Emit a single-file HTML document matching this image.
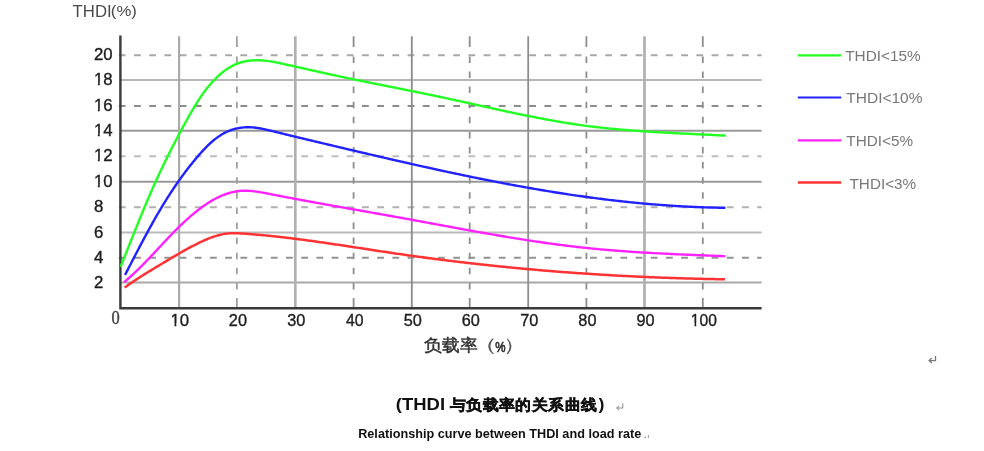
<!DOCTYPE html>
<html><head><meta charset="utf-8"><style>
html,body{margin:0;padding:0;background:#fff;width:984px;height:451px;overflow:hidden;font-family:"Liberation Sans",sans-serif;}
svg{position:absolute;left:0;top:0;will-change:transform;}
</style></head><body>
<svg width="984" height="451" viewBox="0 0 984 451">
<rect width="984" height="451" fill="#fff"/>
<g>
<line x1="120.4" y1="282.60" x2="761.6" y2="282.60" stroke="#a8a8a8" stroke-width="2"/>
<line x1="120.4" y1="232.40" x2="761.6" y2="232.40" stroke="#bababa" stroke-width="2"/>
<line x1="120.4" y1="181.80" x2="761.6" y2="181.80" stroke="#999" stroke-width="2"/>
<line x1="120.4" y1="130.80" x2="761.6" y2="130.80" stroke="#999" stroke-width="2"/>
<line x1="120.4" y1="80.00" x2="761.6" y2="80.00" stroke="#b6b6b6" stroke-width="2"/>
<path d="M118.80,257.70H125.60M134.00,257.70H140.80M149.20,257.70H156.00M164.40,257.70H171.20M179.60,257.70H186.40M194.80,257.70H201.60M210.00,257.70H216.80M225.20,257.70H232.00M240.40,257.70H247.20M255.60,257.70H262.40M270.80,257.70H277.60M286.00,257.70H292.80M301.20,257.70H308.00M316.40,257.70H323.20M331.60,257.70H338.40M346.80,257.70H353.60M362.00,257.70H368.80M377.20,257.70H384.00M392.40,257.70H399.20M407.60,257.70H414.40M422.80,257.70H429.60M438.00,257.70H444.80M453.20,257.70H460.00M468.40,257.70H475.20M483.60,257.70H490.40M498.80,257.70H505.60M514.00,257.70H520.80M529.20,257.70H536.00M544.40,257.70H551.20M559.60,257.70H566.40M574.80,257.70H581.60M590.00,257.70H596.80M605.20,257.70H612.00M620.40,257.70H627.20M635.60,257.70H642.40M650.80,257.70H657.60M666.00,257.70H672.80M681.20,257.70H688.00M696.40,257.70H703.20M711.60,257.70H718.40M726.80,257.70H733.60M742.00,257.70H748.80M757.20,257.70H761.60" stroke="#939393" stroke-width="2" fill="none"/>
<path d="M118.80,207.30H125.60M134.00,207.30H140.80M149.20,207.30H156.00M164.40,207.30H171.20M179.60,207.30H186.40M194.80,207.30H201.60M210.00,207.30H216.80M225.20,207.30H232.00M240.40,207.30H247.20M255.60,207.30H262.40M270.80,207.30H277.60M286.00,207.30H292.80M301.20,207.30H308.00M316.40,207.30H323.20M331.60,207.30H338.40M346.80,207.30H353.60M362.00,207.30H368.80M377.20,207.30H384.00M392.40,207.30H399.20M407.60,207.30H414.40M422.80,207.30H429.60M438.00,207.30H444.80M453.20,207.30H460.00M468.40,207.30H475.20M483.60,207.30H490.40M498.80,207.30H505.60M514.00,207.30H520.80M529.20,207.30H536.00M544.40,207.30H551.20M559.60,207.30H566.40M574.80,207.30H581.60M590.00,207.30H596.80M605.20,207.30H612.00M620.40,207.30H627.20M635.60,207.30H642.40M650.80,207.30H657.60M666.00,207.30H672.80M681.20,207.30H688.00M696.40,207.30H703.20M711.60,207.30H718.40M726.80,207.30H733.60M742.00,207.30H748.80M757.20,207.30H761.60" stroke="#b0b0b0" stroke-width="2" fill="none"/>
<path d="M118.80,156.20H125.60M134.00,156.20H140.80M149.20,156.20H156.00M164.40,156.20H171.20M179.60,156.20H186.40M194.80,156.20H201.60M210.00,156.20H216.80M225.20,156.20H232.00M240.40,156.20H247.20M255.60,156.20H262.40M270.80,156.20H277.60M286.00,156.20H292.80M301.20,156.20H308.00M316.40,156.20H323.20M331.60,156.20H338.40M346.80,156.20H353.60M362.00,156.20H368.80M377.20,156.20H384.00M392.40,156.20H399.20M407.60,156.20H414.40M422.80,156.20H429.60M438.00,156.20H444.80M453.20,156.20H460.00M468.40,156.20H475.20M483.60,156.20H490.40M498.80,156.20H505.60M514.00,156.20H520.80M529.20,156.20H536.00M544.40,156.20H551.20M559.60,156.20H566.40M574.80,156.20H581.60M590.00,156.20H596.80M605.20,156.20H612.00M620.40,156.20H627.20M635.60,156.20H642.40M650.80,156.20H657.60M666.00,156.20H672.80M681.20,156.20H688.00M696.40,156.20H703.20M711.60,156.20H718.40M726.80,156.20H733.60M742.00,156.20H748.80M757.20,156.20H761.60" stroke="#bdbdbd" stroke-width="2" fill="none"/>
<path d="M118.80,105.90H125.60M134.00,105.90H140.80M149.20,105.90H156.00M164.40,105.90H171.20M179.60,105.90H186.40M194.80,105.90H201.60M210.00,105.90H216.80M225.20,105.90H232.00M240.40,105.90H247.20M255.60,105.90H262.40M270.80,105.90H277.60M286.00,105.90H292.80M301.20,105.90H308.00M316.40,105.90H323.20M331.60,105.90H338.40M346.80,105.90H353.60M362.00,105.90H368.80M377.20,105.90H384.00M392.40,105.90H399.20M407.60,105.90H414.40M422.80,105.90H429.60M438.00,105.90H444.80M453.20,105.90H460.00M468.40,105.90H475.20M483.60,105.90H490.40M498.80,105.90H505.60M514.00,105.90H520.80M529.20,105.90H536.00M544.40,105.90H551.20M559.60,105.90H566.40M574.80,105.90H581.60M590.00,105.90H596.80M605.20,105.90H612.00M620.40,105.90H627.20M635.60,105.90H642.40M650.80,105.90H657.60M666.00,105.90H672.80M681.20,105.90H688.00M696.40,105.90H703.20M711.60,105.90H718.40M726.80,105.90H733.60M742.00,105.90H748.80M757.20,105.90H761.60" stroke="#8c8c8c" stroke-width="2" fill="none"/>
<path d="M118.80,55.20H125.60M134.00,55.20H140.80M149.20,55.20H156.00M164.40,55.20H171.20M179.60,55.20H186.40M194.80,55.20H201.60M210.00,55.20H216.80M225.20,55.20H232.00M240.40,55.20H247.20M255.60,55.20H262.40M270.80,55.20H277.60M286.00,55.20H292.80M301.20,55.20H308.00M316.40,55.20H323.20M331.60,55.20H338.40M346.80,55.20H353.60M362.00,55.20H368.80M377.20,55.20H384.00M392.40,55.20H399.20M407.60,55.20H414.40M422.80,55.20H429.60M438.00,55.20H444.80M453.20,55.20H460.00M468.40,55.20H475.20M483.60,55.20H490.40M498.80,55.20H505.60M514.00,55.20H520.80M529.20,55.20H536.00M544.40,55.20H551.20M559.60,55.20H566.40M574.80,55.20H581.60M590.00,55.20H596.80M605.20,55.20H612.00M620.40,55.20H627.20M635.60,55.20H642.40M650.80,55.20H657.60M666.00,55.20H672.80M681.20,55.20H688.00M696.40,55.20H703.20M711.60,55.20H718.40M726.80,55.20H733.60M742.00,55.20H748.80M757.20,55.20H761.60" stroke="#a8a8a8" stroke-width="2" fill="none"/>
<line x1="179.10" y1="36.2" x2="179.10" y2="308.3" stroke="#a8a8a8" stroke-width="2.1"/>
<line x1="295.30" y1="36.2" x2="295.30" y2="308.3" stroke="#b0b0b0" stroke-width="2.7"/>
<line x1="411.80" y1="36.2" x2="411.80" y2="308.3" stroke="#8e8e8e" stroke-width="1.9"/>
<line x1="528.20" y1="36.2" x2="528.20" y2="308.3" stroke="#8e8e8e" stroke-width="1.8"/>
<line x1="644.50" y1="36.2" x2="644.50" y2="308.3" stroke="#b0b0b0" stroke-width="2.7"/>
<path d="M236.90,298.00V308.30M236.90,282.90V289.40M236.90,267.80V274.30M236.90,252.70V259.20M236.90,237.60V244.10M236.90,222.50V229.00M236.90,207.40V213.90M236.90,192.30V198.80M236.90,177.20V183.70M236.90,162.10V168.60M236.90,147.00V153.50M236.90,131.90V138.40M236.90,116.80V123.30M236.90,101.70V108.20M236.90,86.60V93.10M236.90,71.50V78.00M236.90,56.40V62.90M236.90,36.20V47.00" stroke="#a0a0a0" stroke-width="1.8" fill="none"/>
<path d="M353.60,298.00V308.30M353.60,282.90V289.40M353.60,267.80V274.30M353.60,252.70V259.20M353.60,237.60V244.10M353.60,222.50V229.00M353.60,207.40V213.90M353.60,192.30V198.80M353.60,177.20V183.70M353.60,162.10V168.60M353.60,147.00V153.50M353.60,131.90V138.40M353.60,116.80V123.30M353.60,101.70V108.20M353.60,86.60V93.10M353.60,71.50V78.00M353.60,56.40V62.90M353.60,36.20V47.00" stroke="#8e8e8e" stroke-width="1.8" fill="none"/>
<path d="M469.70,298.00V308.30M469.70,282.90V289.40M469.70,267.80V274.30M469.70,252.70V259.20M469.70,237.60V244.10M469.70,222.50V229.00M469.70,207.40V213.90M469.70,192.30V198.80M469.70,177.20V183.70M469.70,162.10V168.60M469.70,147.00V153.50M469.70,131.90V138.40M469.70,116.80V123.30M469.70,101.70V108.20M469.70,86.60V93.10M469.70,71.50V78.00M469.70,56.40V62.90M469.70,36.20V47.00" stroke="#8e8e8e" stroke-width="1.8" fill="none"/>
<path d="M586.40,298.00V308.30M586.40,282.90V289.40M586.40,267.80V274.30M586.40,252.70V259.20M586.40,237.60V244.10M586.40,222.50V229.00M586.40,207.40V213.90M586.40,192.30V198.80M586.40,177.20V183.70M586.40,162.10V168.60M586.40,147.00V153.50M586.40,131.90V138.40M586.40,116.80V123.30M586.40,101.70V108.20M586.40,86.60V93.10M586.40,71.50V78.00M586.40,56.40V62.90M586.40,36.20V47.00" stroke="#8e8e8e" stroke-width="1.8" fill="none"/>
<path d="M702.80,298.00V308.30M702.80,282.90V289.40M702.80,267.80V274.30M702.80,252.70V259.20M702.80,237.60V244.10M702.80,222.50V229.00M702.80,207.40V213.90M702.80,192.30V198.80M702.80,177.20V183.70M702.80,162.10V168.60M702.80,147.00V153.50M702.80,131.90V138.40M702.80,116.80V123.30M702.80,101.70V108.20M702.80,86.60V93.10M702.80,71.50V78.00M702.80,56.40V62.90M702.80,36.20V47.00" stroke="#8e8e8e" stroke-width="1.8" fill="none"/>
<path d="M120.4,35.5V308.3H761.6" stroke="#3a3a3a" stroke-width="2.4" fill="none"/>
<path d="M120.59,266.78 L121.27,265.09 L121.95,263.40 L122.63,261.71 L123.30,260.01 L123.98,258.32 L124.66,256.62 L125.33,254.92 L126.01,253.22 L126.69,251.51 L127.36,249.81 L128.04,248.10 L128.72,246.40 L129.40,244.69 L130.08,242.98 L130.76,241.27 L131.44,239.56 L132.12,237.85 L132.80,236.14 L133.48,234.43 L134.17,232.71 L134.85,231.00 L135.54,229.29 L136.23,227.58 L136.92,225.87 L137.61,224.15 L138.30,222.44 L138.99,220.73 L139.69,219.02 L140.38,217.31 L141.08,215.60 L141.78,213.90 L142.49,212.19 L143.19,210.48 L143.90,208.78 L144.61,207.07 L145.32,205.37 L146.04,203.67 L146.75,201.97 L147.47,200.28 L148.19,198.58 L148.92,196.89 L149.65,195.20 L150.38,193.51 L151.11,191.83 L151.85,190.14 L152.59,188.46 L153.33,186.78 L154.08,185.11 L154.83,183.43 L155.58,181.76 L156.34,180.10 L157.10,178.43 L157.87,176.77 L158.63,175.11 L159.41,173.46 L160.18,171.81 L160.96,170.16 L161.74,168.51 L162.53,166.86 L163.32,165.22 L164.11,163.58 L164.91,161.94 L165.71,160.30 L166.52,158.66 L167.33,157.03 L168.14,155.40 L168.96,153.76 L169.78,152.13 L170.60,150.51 L171.43,148.88 L172.26,147.25 L173.10,145.63 L173.94,144.00 L174.78,142.38 L175.63,140.75 L176.48,139.13 L177.34,137.51 L178.20,135.88 L179.06,134.26 L179.93,132.64 L180.80,131.02 L181.68,129.39 L182.56,127.77 L183.44,126.15 L184.33,124.53 L185.22,122.90 L186.12,121.28 L187.02,119.65 L187.92,118.03 L188.83,116.40 L189.75,114.78 L190.67,113.15 L191.60,111.53 L192.54,109.92 L193.49,108.30 L194.45,106.70 L195.42,105.10 L196.40,103.51 L197.39,101.92 L198.40,100.35 L199.42,98.79 L200.45,97.23 L201.50,95.69 L202.57,94.17 L203.66,92.65 L204.76,91.15 L205.88,89.67 L207.03,88.21 L208.19,86.76 L209.38,85.33 L210.59,83.92 L211.82,82.53 L213.08,81.16 L214.36,79.82 L215.67,78.49 L217.00,77.20 L218.36,75.93 L219.74,74.69 L221.15,73.49 L222.59,72.32 L224.04,71.20 L225.53,70.11 L227.03,69.07 L228.56,68.08 L230.12,67.14 L231.70,66.26 L233.30,65.43 L234.92,64.66 L236.56,63.95 L238.23,63.31 L239.91,62.73 L241.62,62.22 L243.35,61.77 L245.09,61.38 L246.84,61.05 L248.61,60.77 L250.40,60.55 L252.19,60.39 L254.00,60.28 L255.81,60.22 L257.63,60.21 L259.45,60.25 L261.28,60.33 L263.11,60.46 L264.95,60.64 L266.78,60.85 L268.62,61.10 L270.45,61.38 L272.29,61.69 L274.13,62.02 L275.96,62.38 L277.79,62.75 L279.62,63.13 L281.45,63.53 L283.28,63.92 L285.10,64.32 L286.92,64.73 L288.74,65.13 L290.55,65.53 L292.37,65.93 L294.18,66.34 L295.98,66.74 L297.79,67.15 L299.59,67.55 L301.39,67.96 L303.19,68.36 L304.99,68.77 L306.79,69.17 L308.59,69.58 L310.38,69.98 L312.17,70.39 L313.97,70.79 L315.76,71.19 L317.55,71.59 L319.34,71.99 L321.13,72.39 L322.93,72.79 L324.72,73.19 L326.51,73.58 L328.30,73.97 L330.09,74.36 L331.89,74.75 L333.68,75.14 L335.47,75.53 L337.27,75.91 L339.06,76.30 L340.86,76.68 L342.66,77.06 L344.45,77.43 L346.25,77.81 L348.05,78.19 L349.85,78.56 L351.64,78.93 L353.44,79.31 L355.24,79.68 L357.04,80.05 L358.84,80.42 L360.64,80.78 L362.45,81.15 L364.25,81.52 L366.05,81.88 L367.85,82.25 L369.65,82.61 L371.46,82.97 L373.26,83.34 L375.06,83.70 L376.87,84.06 L378.67,84.42 L380.47,84.78 L382.28,85.14 L384.08,85.50 L385.89,85.86 L387.69,86.23 L389.50,86.59 L391.30,86.95 L393.11,87.31 L394.91,87.67 L396.72,88.03 L398.52,88.39 L400.33,88.75 L402.13,89.11 L403.94,89.47 L405.75,89.84 L407.55,90.20 L409.36,90.56 L411.16,90.93 L412.97,91.29 L414.77,91.66 L416.58,92.03 L418.38,92.39 L420.19,92.76 L421.99,93.13 L423.80,93.50 L425.60,93.87 L427.41,94.25 L429.21,94.62 L431.01,94.99 L432.82,95.37 L434.62,95.75 L436.42,96.13 L438.23,96.51 L440.03,96.89 L441.83,97.28 L443.64,97.66 L445.44,98.05 L447.24,98.44 L449.04,98.83 L450.84,99.22 L452.64,99.61 L454.44,100.00 L456.24,100.39 L458.04,100.79 L459.84,101.19 L461.64,101.58 L463.44,101.98 L465.24,102.38 L467.04,102.77 L468.84,103.17 L470.64,103.57 L472.44,103.97 L474.24,104.37 L476.04,104.77 L477.84,105.16 L479.64,105.56 L481.44,105.96 L483.24,106.36 L485.04,106.76 L486.84,107.15 L488.64,107.55 L490.44,107.95 L492.24,108.34 L494.04,108.74 L495.84,109.13 L497.64,109.52 L499.44,109.91 L501.24,110.30 L503.04,110.69 L504.84,111.08 L506.64,111.47 L508.44,111.85 L510.24,112.24 L512.04,112.62 L513.85,113.00 L515.65,113.38 L517.45,113.75 L519.25,114.13 L521.06,114.50 L522.86,114.87 L524.66,115.24 L526.47,115.61 L528.27,115.97 L530.08,116.33 L531.88,116.69 L533.69,117.04 L535.49,117.40 L537.30,117.75 L539.11,118.10 L540.92,118.44 L542.72,118.78 L544.53,119.12 L546.34,119.45 L548.15,119.79 L549.96,120.11 L551.77,120.44 L553.58,120.76 L555.40,121.08 L557.21,121.39 L559.02,121.70 L560.83,122.01 L562.65,122.31 L564.46,122.61 L566.28,122.90 L568.10,123.20 L569.91,123.48 L571.73,123.76 L573.55,124.04 L575.37,124.31 L577.19,124.58 L579.01,124.84 L580.83,125.10 L582.65,125.35 L584.47,125.60 L586.30,125.85 L588.12,126.08 L589.95,126.32 L591.77,126.55 L593.60,126.77 L595.43,126.99 L597.26,127.20 L599.09,127.41 L600.92,127.62 L602.75,127.82 L604.58,128.01 L606.41,128.20 L608.24,128.39 L610.08,128.58 L611.91,128.76 L613.74,128.93 L615.58,129.10 L617.41,129.27 L619.25,129.43 L621.09,129.60 L622.92,129.75 L624.76,129.91 L626.60,130.06 L628.44,130.20 L630.27,130.35 L632.11,130.49 L633.95,130.63 L635.79,130.76 L637.63,130.90 L639.47,131.03 L641.31,131.15 L643.15,131.28 L644.99,131.40 L646.83,131.52 L648.67,131.64 L650.51,131.75 L652.35,131.87 L654.19,131.98 L656.04,132.09 L657.88,132.19 L659.72,132.30 L661.56,132.40 L663.40,132.51 L665.24,132.61 L667.08,132.71 L668.93,132.81 L670.77,132.90 L672.61,133.00 L674.45,133.09 L676.29,133.19 L678.13,133.28 L679.97,133.37 L681.81,133.46 L683.65,133.55 L685.49,133.65 L687.33,133.74 L689.17,133.82 L691.01,133.91 L692.85,134.00 L694.69,134.09 L696.52,134.18 L698.36,134.27 L700.20,134.36 L702.04,134.45 L703.87,134.54 L705.71,134.63 L707.54,134.72 L709.38,134.81 L711.21,134.90 L713.05,134.99 L714.88,135.09 L716.71,135.18 L718.55,135.28 L720.38,135.37 L722.21,135.47 L724.04,135.57 L725.87,135.67" stroke="#22ff22" stroke-width="2.4" fill="none" stroke-linecap="butt" stroke-linejoin="round"/>
<path d="M125.01,275.00 L125.80,273.46 L126.60,271.92 L127.40,270.38 L128.19,268.84 L128.98,267.30 L129.78,265.77 L130.57,264.23 L131.36,262.70 L132.16,261.17 L132.95,259.64 L133.74,258.11 L134.53,256.58 L135.33,255.05 L136.12,253.52 L136.92,252.00 L137.71,250.48 L138.51,248.95 L139.31,247.43 L140.10,245.91 L140.91,244.40 L141.71,242.88 L142.51,241.37 L143.32,239.86 L144.12,238.35 L144.93,236.84 L145.74,235.33 L146.56,233.82 L147.37,232.32 L148.19,230.82 L149.01,229.32 L149.83,227.83 L150.66,226.33 L151.49,224.84 L152.32,223.35 L153.16,221.86 L154.00,220.38 L154.84,218.89 L155.69,217.41 L156.54,215.93 L157.40,214.46 L158.26,212.99 L159.12,211.52 L159.99,210.05 L160.86,208.58 L161.74,207.12 L162.62,205.66 L163.51,204.20 L164.40,202.75 L165.29,201.30 L166.20,199.85 L167.11,198.41 L168.02,196.96 L168.94,195.53 L169.86,194.09 L170.79,192.66 L171.73,191.23 L172.67,189.80 L173.62,188.38 L174.58,186.96 L175.54,185.55 L176.51,184.13 L177.49,182.73 L178.47,181.32 L179.46,179.92 L180.46,178.52 L181.47,177.13 L182.48,175.74 L183.50,174.35 L184.53,172.97 L185.57,171.59 L186.61,170.21 L187.67,168.84 L188.73,167.48 L189.80,166.11 L190.88,164.75 L191.96,163.40 L193.06,162.05 L194.17,160.70 L195.28,159.36 L196.40,158.02 L197.54,156.69 L198.68,155.36 L199.83,154.04 L201.00,152.72 L202.17,151.42 L203.36,150.13 L204.56,148.85 L205.77,147.59 L207.00,146.35 L208.24,145.13 L209.50,143.93 L210.78,142.76 L212.07,141.61 L213.38,140.50 L214.71,139.42 L216.05,138.37 L217.42,137.36 L218.81,136.38 L220.21,135.45 L221.64,134.56 L223.10,133.72 L224.57,132.92 L226.07,132.17 L227.60,131.47 L229.14,130.83 L230.71,130.24 L232.30,129.70 L233.91,129.21 L235.53,128.78 L237.17,128.39 L238.82,128.07 L240.49,127.79 L242.16,127.57 L243.84,127.40 L245.53,127.29 L247.22,127.23 L248.91,127.23 L250.61,127.28 L252.30,127.38 L254.00,127.53 L255.69,127.72 L257.39,127.95 L259.09,128.22 L260.78,128.52 L262.48,128.85 L264.18,129.20 L265.87,129.58 L267.57,129.97 L269.26,130.37 L270.95,130.78 L272.64,131.20 L274.33,131.62 L276.02,132.03 L277.70,132.45 L279.39,132.86 L281.07,133.28 L282.75,133.69 L284.43,134.10 L286.11,134.51 L287.79,134.91 L289.47,135.32 L291.14,135.73 L292.82,136.13 L294.49,136.54 L296.16,136.94 L297.83,137.34 L299.50,137.74 L301.17,138.14 L302.84,138.54 L304.51,138.94 L306.18,139.34 L307.84,139.74 L309.51,140.14 L311.18,140.53 L312.84,140.93 L314.51,141.33 L316.17,141.72 L317.83,142.12 L319.50,142.51 L321.16,142.91 L322.83,143.30 L324.49,143.69 L326.16,144.09 L327.82,144.48 L329.48,144.88 L331.15,145.27 L332.81,145.66 L334.48,146.06 L336.14,146.45 L337.81,146.85 L339.48,147.24 L341.14,147.63 L342.81,148.03 L344.47,148.42 L346.14,148.81 L347.81,149.21 L349.47,149.60 L351.14,149.99 L352.81,150.39 L354.48,150.78 L356.14,151.17 L357.81,151.56 L359.48,151.96 L361.15,152.35 L362.82,152.74 L364.49,153.13 L366.16,153.52 L367.82,153.91 L369.49,154.30 L371.16,154.69 L372.83,155.08 L374.50,155.47 L376.18,155.86 L377.85,156.25 L379.52,156.64 L381.19,157.03 L382.86,157.41 L384.53,157.80 L386.20,158.19 L387.88,158.57 L389.55,158.96 L391.22,159.34 L392.89,159.73 L394.57,160.11 L396.24,160.50 L397.91,160.88 L399.59,161.26 L401.26,161.64 L402.93,162.02 L404.61,162.41 L406.28,162.79 L407.96,163.17 L409.63,163.54 L411.31,163.92 L412.98,164.30 L414.66,164.68 L416.34,165.05 L418.01,165.43 L419.69,165.80 L421.36,166.18 L423.04,166.55 L424.72,166.92 L426.40,167.29 L428.07,167.67 L429.75,168.04 L431.43,168.40 L433.11,168.77 L434.79,169.14 L436.46,169.51 L438.14,169.87 L439.82,170.24 L441.50,170.60 L443.18,170.97 L444.86,171.33 L446.54,171.69 L448.22,172.05 L449.90,172.41 L451.58,172.77 L453.26,173.12 L454.95,173.48 L456.63,173.84 L458.31,174.19 L459.99,174.54 L461.67,174.90 L463.36,175.25 L465.04,175.60 L466.72,175.95 L468.40,176.29 L470.09,176.64 L471.77,176.99 L473.46,177.33 L475.14,177.67 L476.82,178.02 L478.51,178.36 L480.19,178.70 L481.88,179.03 L483.56,179.37 L485.25,179.71 L486.94,180.04 L488.62,180.37 L490.31,180.71 L491.99,181.04 L493.68,181.37 L495.37,181.69 L497.05,182.02 L498.74,182.35 L500.43,182.67 L502.12,182.99 L503.81,183.31 L505.49,183.63 L507.18,183.95 L508.87,184.27 L510.56,184.58 L512.25,184.90 L513.94,185.21 L515.63,185.52 L517.32,185.83 L519.01,186.13 L520.70,186.44 L522.39,186.74 L524.08,187.05 L525.77,187.35 L527.47,187.65 L529.16,187.95 L530.85,188.24 L532.54,188.54 L534.23,188.83 L535.93,189.12 L537.62,189.41 L539.31,189.70 L541.01,189.99 L542.70,190.27 L544.40,190.55 L546.09,190.83 L547.78,191.11 L549.48,191.39 L551.17,191.67 L552.87,191.94 L554.56,192.21 L556.26,192.48 L557.96,192.75 L559.65,193.02 L561.35,193.28 L563.05,193.54 L564.74,193.81 L566.44,194.06 L568.14,194.32 L569.84,194.58 L571.53,194.83 L573.23,195.08 L574.93,195.33 L576.63,195.58 L578.33,195.82 L580.03,196.06 L581.73,196.30 L583.43,196.54 L585.13,196.78 L586.83,197.01 L588.53,197.25 L590.23,197.48 L591.93,197.71 L593.63,197.93 L595.33,198.16 L597.03,198.38 L598.74,198.60 L600.44,198.81 L602.14,199.03 L603.84,199.24 L605.55,199.45 L607.25,199.66 L608.95,199.87 L610.66,200.07 L612.36,200.27 L614.07,200.47 L615.77,200.67 L617.48,200.86 L619.18,201.05 L620.89,201.24 L622.59,201.43 L624.30,201.62 L626.00,201.80 L627.71,201.98 L629.42,202.16 L631.12,202.33 L632.83,202.50 L634.54,202.67 L636.25,202.84 L637.95,203.01 L639.66,203.17 L641.37,203.33 L643.08,203.49 L644.79,203.64 L646.50,203.80 L648.21,203.95 L649.92,204.09 L651.63,204.24 L653.34,204.38 L655.05,204.52 L656.76,204.66 L658.47,204.79 L660.18,204.92 L661.89,205.05 L663.61,205.18 L665.32,205.30 L667.03,205.42 L668.74,205.54 L670.46,205.65 L672.17,205.76 L673.88,205.87 L675.60,205.98 L677.31,206.08 L679.02,206.18 L680.74,206.28 L682.45,206.38 L684.17,206.47 L685.88,206.56 L687.60,206.65 L689.32,206.73 L691.03,206.81 L692.75,206.89 L694.47,206.96 L696.18,207.03 L697.90,207.10 L699.62,207.17 L701.33,207.23 L703.05,207.29 L704.77,207.35 L706.49,207.40 L708.21,207.45 L709.93,207.50 L711.65,207.54 L713.37,207.58 L715.09,207.62 L716.81,207.66 L718.53,207.69 L720.25,207.72 L721.97,207.74 L723.69,207.76 L725.41,207.78" stroke="#2222ff" stroke-width="2.4" fill="none" stroke-linecap="butt" stroke-linejoin="round"/>
<path d="M124.10,282.15 L125.35,281.10 L126.59,280.04 L127.82,278.98 L129.04,277.91 L130.25,276.83 L131.45,275.74 L132.64,274.65 L133.82,273.55 L135.00,272.45 L136.16,271.34 L137.32,270.23 L138.47,269.11 L139.61,267.99 L140.75,266.86 L141.88,265.73 L143.01,264.60 L144.13,263.46 L145.24,262.32 L146.35,261.17 L147.45,260.02 L148.56,258.87 L149.65,257.72 L150.75,256.57 L151.84,255.41 L152.93,254.25 L154.02,253.09 L155.10,251.93 L156.19,250.77 L157.27,249.60 L158.35,248.44 L159.44,247.28 L160.52,246.11 L161.60,244.95 L162.69,243.79 L163.77,242.63 L164.86,241.47 L165.95,240.31 L167.05,239.15 L168.14,237.99 L169.24,236.84 L170.35,235.69 L171.45,234.54 L172.57,233.39 L173.68,232.25 L174.81,231.11 L175.93,229.97 L177.07,228.84 L178.21,227.71 L179.36,226.59 L180.51,225.47 L181.67,224.35 L182.84,223.24 L184.02,222.14 L185.21,221.04 L186.41,219.94 L187.61,218.86 L188.83,217.77 L190.06,216.70 L191.29,215.63 L192.54,214.57 L193.80,213.52 L195.07,212.48 L196.35,211.45 L197.63,210.43 L198.93,209.42 L200.24,208.43 L201.56,207.46 L202.89,206.50 L204.23,205.56 L205.58,204.63 L206.93,203.73 L208.30,202.85 L209.67,201.99 L211.06,201.15 L212.45,200.33 L213.86,199.55 L215.27,198.78 L216.69,198.05 L218.12,197.34 L219.55,196.66 L221.00,196.02 L222.45,195.40 L223.91,194.82 L225.38,194.27 L226.86,193.75 L228.35,193.27 L229.84,192.83 L231.34,192.43 L232.85,192.06 L234.36,191.74 L235.89,191.46 L237.42,191.22 L238.95,191.02 L240.50,190.87 L242.05,190.76 L243.61,190.70 L245.17,190.68 L246.74,190.71 L248.32,190.77 L249.90,190.87 L251.48,191.00 L253.07,191.17 L254.66,191.36 L256.26,191.57 L257.86,191.81 L259.46,192.07 L261.06,192.35 L262.67,192.63 L264.27,192.93 L265.88,193.24 L267.49,193.55 L269.09,193.87 L270.70,194.18 L272.30,194.50 L273.90,194.81 L275.51,195.12 L277.11,195.43 L278.71,195.74 L280.31,196.05 L281.91,196.36 L283.51,196.66 L285.10,196.97 L286.70,197.27 L288.30,197.57 L289.89,197.88 L291.49,198.18 L293.08,198.47 L294.67,198.77 L296.26,199.07 L297.86,199.37 L299.45,199.66 L301.04,199.96 L302.62,200.25 L304.21,200.54 L305.80,200.83 L307.39,201.13 L308.97,201.42 L310.56,201.71 L312.15,201.99 L313.73,202.28 L315.32,202.57 L316.90,202.86 L318.48,203.14 L320.07,203.43 L321.65,203.71 L323.23,204.00 L324.81,204.28 L326.39,204.56 L327.97,204.85 L329.55,205.13 L331.13,205.41 L332.71,205.69 L334.29,205.97 L335.87,206.25 L337.44,206.53 L339.02,206.81 L340.60,207.09 L342.18,207.37 L343.75,207.65 L345.33,207.93 L346.90,208.21 L348.48,208.49 L350.05,208.76 L351.63,209.04 L353.20,209.32 L354.78,209.60 L356.35,209.87 L357.93,210.15 L359.50,210.43 L361.08,210.71 L362.65,210.98 L364.22,211.26 L365.80,211.54 L367.37,211.82 L368.94,212.10 L370.52,212.37 L372.09,212.65 L373.66,212.93 L375.24,213.21 L376.81,213.49 L378.38,213.77 L379.95,214.05 L381.53,214.33 L383.10,214.61 L384.67,214.89 L386.25,215.17 L387.82,215.45 L389.39,215.73 L390.97,216.01 L392.54,216.29 L394.11,216.58 L395.69,216.86 L397.26,217.14 L398.84,217.43 L400.41,217.71 L401.98,218.00 L403.56,218.29 L405.13,218.57 L406.71,218.86 L408.28,219.15 L409.86,219.44 L411.44,219.72 L413.01,220.01 L414.59,220.30 L416.16,220.59 L417.74,220.88 L419.32,221.17 L420.89,221.47 L422.47,221.76 L424.05,222.05 L425.62,222.34 L427.20,222.63 L428.78,222.92 L430.36,223.21 L431.94,223.51 L433.51,223.80 L435.09,224.09 L436.67,224.38 L438.25,224.67 L439.83,224.97 L441.41,225.26 L442.99,225.55 L444.57,225.84 L446.15,226.13 L447.73,226.42 L449.31,226.71 L450.89,227.01 L452.47,227.30 L454.05,227.59 L455.63,227.88 L457.21,228.17 L458.79,228.45 L460.37,228.74 L461.95,229.03 L463.54,229.32 L465.12,229.61 L466.70,229.89 L468.28,230.18 L469.87,230.47 L471.45,230.75 L473.03,231.03 L474.61,231.32 L476.20,231.60 L477.78,231.88 L479.37,232.17 L480.95,232.45 L482.53,232.73 L484.12,233.01 L485.70,233.28 L487.29,233.56 L488.87,233.84 L490.46,234.11 L492.04,234.39 L493.63,234.66 L495.21,234.93 L496.80,235.21 L498.39,235.48 L499.97,235.75 L501.56,236.01 L503.15,236.28 L504.73,236.55 L506.32,236.81 L507.91,237.08 L509.49,237.34 L511.08,237.60 L512.67,237.86 L514.26,238.12 L515.85,238.37 L517.43,238.63 L519.02,238.88 L520.61,239.14 L522.20,239.39 L523.79,239.64 L525.38,239.89 L526.97,240.13 L528.56,240.38 L530.15,240.62 L531.74,240.86 L533.33,241.10 L534.92,241.34 L536.51,241.58 L538.10,241.81 L539.69,242.05 L541.28,242.28 L542.88,242.51 L544.47,242.74 L546.06,242.96 L547.65,243.19 L549.24,243.41 L550.84,243.63 L552.43,243.85 L554.02,244.06 L555.62,244.28 L557.21,244.49 L558.80,244.70 L560.40,244.90 L561.99,245.11 L563.58,245.31 L565.18,245.51 L566.77,245.71 L568.37,245.91 L569.96,246.10 L571.56,246.30 L573.15,246.48 L574.75,246.67 L576.34,246.86 L577.94,247.04 L579.54,247.22 L581.13,247.40 L582.73,247.57 L584.32,247.74 L585.92,247.91 L587.52,248.08 L589.12,248.24 L590.71,248.41 L592.31,248.57 L593.91,248.72 L595.51,248.88 L597.10,249.03 L598.70,249.18 L600.30,249.33 L601.90,249.47 L603.50,249.61 L605.10,249.75 L606.70,249.89 L608.30,250.03 L609.90,250.16 L611.50,250.29 L613.10,250.42 L614.70,250.55 L616.30,250.68 L617.90,250.80 L619.50,250.92 L621.10,251.04 L622.70,251.16 L624.30,251.28 L625.90,251.39 L627.50,251.50 L629.10,251.61 L630.71,251.72 L632.31,251.83 L633.91,251.93 L635.51,252.04 L637.11,252.14 L638.72,252.24 L640.32,252.34 L641.92,252.44 L643.52,252.53 L645.13,252.63 L646.73,252.72 L648.33,252.81 L649.94,252.90 L651.54,252.99 L653.14,253.08 L654.75,253.16 L656.35,253.25 L657.95,253.33 L659.56,253.42 L661.16,253.50 L662.77,253.58 L664.37,253.66 L665.98,253.74 L667.58,253.81 L669.19,253.89 L670.79,253.97 L672.39,254.04 L674.00,254.12 L675.61,254.19 L677.21,254.26 L678.82,254.33 L680.42,254.40 L682.03,254.47 L683.63,254.54 L685.24,254.61 L686.84,254.68 L688.45,254.75 L690.06,254.81 L691.66,254.88 L693.27,254.95 L694.87,255.01 L696.48,255.08 L698.09,255.14 L699.69,255.20 L701.30,255.27 L702.91,255.33 L704.51,255.40 L706.12,255.46 L707.73,255.52 L709.33,255.59 L710.94,255.65 L712.55,255.71 L714.15,255.77 L715.76,255.84 L717.37,255.90 L718.97,255.96 L720.58,256.02 L722.19,256.09 L723.80,256.15 L725.40,256.21" stroke="#ff22ff" stroke-width="2.4" fill="none" stroke-linecap="butt" stroke-linejoin="round"/>
<path d="M124.61,287.61 L125.87,286.69 L127.13,285.78 L128.40,284.89 L129.67,284.00 L130.95,283.12 L132.23,282.24 L133.51,281.38 L134.80,280.51 L136.09,279.66 L137.38,278.81 L138.68,277.97 L139.98,277.14 L141.28,276.31 L142.58,275.48 L143.89,274.66 L145.19,273.84 L146.50,273.03 L147.82,272.22 L149.13,271.41 L150.45,270.61 L151.76,269.81 L153.08,269.01 L154.40,268.22 L155.72,267.42 L157.05,266.63 L158.37,265.84 L159.69,265.05 L161.01,264.26 L162.34,263.47 L163.66,262.68 L164.99,261.89 L166.31,261.10 L167.64,260.31 L168.96,259.52 L170.29,258.73 L171.62,257.94 L172.95,257.16 L174.28,256.37 L175.61,255.59 L176.95,254.81 L178.29,254.03 L179.63,253.25 L180.97,252.48 L182.32,251.71 L183.67,250.95 L185.03,250.19 L186.39,249.43 L187.75,248.68 L189.12,247.94 L190.49,247.20 L191.87,246.46 L193.25,245.74 L194.65,245.02 L196.04,244.31 L197.44,243.60 L198.85,242.90 L200.27,242.22 L201.69,241.54 L203.12,240.89 L204.55,240.24 L205.99,239.62 L207.43,239.01 L208.88,238.42 L210.34,237.86 L211.80,237.32 L213.27,236.80 L214.74,236.32 L216.22,235.86 L217.70,235.43 L219.19,235.04 L220.68,234.68 L222.17,234.36 L223.67,234.07 L225.18,233.83 L226.69,233.62 L228.20,233.46 L229.72,233.34 L231.24,233.26 L232.76,233.21 L234.29,233.20 L235.82,233.21 L237.35,233.24 L238.88,233.30 L240.42,233.38 L241.96,233.47 L243.49,233.57 L245.03,233.67 L246.57,233.79 L248.10,233.90 L249.64,234.02 L251.17,234.14 L252.71,234.27 L254.25,234.39 L255.78,234.53 L257.32,234.66 L258.85,234.80 L260.39,234.94 L261.92,235.08 L263.46,235.22 L264.99,235.37 L266.53,235.52 L268.06,235.67 L269.60,235.83 L271.13,235.99 L272.67,236.15 L274.20,236.31 L275.73,236.48 L277.27,236.65 L278.80,236.82 L280.34,236.99 L281.87,237.16 L283.40,237.34 L284.94,237.52 L286.47,237.70 L288.00,237.89 L289.54,238.07 L291.07,238.26 L292.60,238.45 L294.13,238.64 L295.67,238.83 L297.20,239.03 L298.73,239.23 L300.26,239.43 L301.80,239.63 L303.33,239.83 L304.86,240.03 L306.39,240.24 L307.93,240.44 L309.46,240.65 L310.99,240.86 L312.52,241.07 L314.05,241.29 L315.59,241.50 L317.12,241.72 L318.65,241.93 L320.18,242.15 L321.71,242.37 L323.24,242.59 L324.78,242.81 L326.31,243.03 L327.84,243.26 L329.37,243.48 L330.90,243.71 L332.43,243.93 L333.96,244.16 L335.50,244.39 L337.03,244.62 L338.56,244.85 L340.09,245.08 L341.62,245.31 L343.15,245.54 L344.68,245.77 L346.21,246.00 L347.75,246.23 L349.28,246.47 L350.81,246.70 L352.34,246.93 L353.87,247.17 L355.40,247.40 L356.93,247.63 L358.46,247.87 L360.00,248.10 L361.53,248.34 L363.06,248.57 L364.59,248.81 L366.12,249.04 L367.65,249.28 L369.18,249.51 L370.72,249.74 L372.25,249.98 L373.78,250.21 L375.31,250.45 L376.84,250.68 L378.37,250.91 L379.91,251.14 L381.44,251.37 L382.97,251.61 L384.50,251.84 L386.03,252.07 L387.57,252.30 L389.10,252.52 L390.63,252.75 L392.16,252.98 L393.70,253.21 L395.23,253.43 L396.76,253.66 L398.29,253.88 L399.83,254.10 L401.36,254.32 L402.89,254.54 L404.43,254.76 L405.96,254.98 L407.49,255.20 L409.03,255.42 L410.56,255.63 L412.09,255.85 L413.63,256.06 L415.16,256.27 L416.69,256.48 L418.23,256.69 L419.76,256.90 L421.30,257.11 L422.83,257.32 L424.36,257.52 L425.90,257.73 L427.43,257.93 L428.97,258.14 L430.50,258.34 L432.04,258.54 L433.57,258.74 L435.11,258.94 L436.64,259.14 L438.18,259.33 L439.71,259.53 L441.25,259.72 L442.78,259.92 L444.32,260.11 L445.85,260.30 L447.39,260.49 L448.92,260.68 L450.46,260.87 L451.99,261.06 L453.53,261.25 L455.07,261.43 L456.60,261.62 L458.14,261.80 L459.67,261.99 L461.21,262.17 L462.75,262.35 L464.28,262.53 L465.82,262.71 L467.36,262.89 L468.89,263.06 L470.43,263.24 L471.97,263.41 L473.50,263.59 L475.04,263.76 L476.58,263.93 L478.12,264.10 L479.65,264.27 L481.19,264.44 L482.73,264.61 L484.27,264.78 L485.80,264.95 L487.34,265.11 L488.88,265.27 L490.42,265.44 L491.95,265.60 L493.49,265.76 L495.03,265.92 L496.57,266.08 L498.11,266.24 L499.64,266.40 L501.18,266.55 L502.72,266.71 L504.26,266.86 L505.80,267.02 L507.34,267.17 L508.88,267.32 L510.42,267.47 L511.95,267.62 L513.49,267.77 L515.03,267.91 L516.57,268.06 L518.11,268.21 L519.65,268.35 L521.19,268.50 L522.73,268.64 L524.27,268.78 L525.81,268.92 L527.35,269.06 L528.89,269.20 L530.43,269.34 L531.97,269.47 L533.51,269.61 L535.05,269.74 L536.59,269.88 L538.13,270.01 L539.67,270.14 L541.21,270.28 L542.75,270.41 L544.29,270.53 L545.83,270.66 L547.37,270.79 L548.91,270.92 L550.45,271.04 L551.99,271.17 L553.54,271.29 L555.08,271.41 L556.62,271.53 L558.16,271.65 L559.70,271.77 L561.24,271.89 L562.78,272.01 L564.32,272.13 L565.87,272.24 L567.41,272.36 L568.95,272.47 L570.49,272.59 L572.03,272.70 L573.58,272.81 L575.12,272.92 L576.66,273.03 L578.20,273.14 L579.74,273.25 L581.29,273.35 L582.83,273.46 L584.37,273.56 L585.91,273.67 L587.46,273.77 L589.00,273.87 L590.54,273.97 L592.08,274.07 L593.63,274.17 L595.17,274.27 L596.71,274.37 L598.26,274.46 L599.80,274.56 L601.34,274.65 L602.89,274.75 L604.43,274.84 L605.97,274.93 L607.52,275.02 L609.06,275.11 L610.60,275.20 L612.15,275.29 L613.69,275.38 L615.24,275.46 L616.78,275.55 L618.32,275.63 L619.87,275.72 L621.41,275.80 L622.96,275.88 L624.50,275.96 L626.04,276.04 L627.59,276.12 L629.13,276.20 L630.68,276.27 L632.22,276.35 L633.77,276.43 L635.31,276.50 L636.86,276.57 L638.40,276.65 L639.95,276.72 L641.49,276.79 L643.04,276.86 L644.58,276.93 L646.13,277.00 L647.67,277.06 L649.22,277.13 L650.76,277.19 L652.31,277.26 L653.85,277.32 L655.40,277.39 L656.94,277.45 L658.49,277.51 L660.04,277.57 L661.58,277.63 L663.13,277.69 L664.67,277.74 L666.22,277.80 L667.77,277.85 L669.31,277.91 L670.86,277.96 L672.40,278.02 L673.95,278.07 L675.50,278.12 L677.04,278.17 L678.59,278.22 L680.14,278.27 L681.68,278.31 L683.23,278.36 L684.78,278.41 L686.32,278.45 L687.87,278.50 L689.42,278.54 L690.96,278.58 L692.51,278.62 L694.06,278.66 L695.60,278.70 L697.15,278.74 L698.70,278.78 L700.25,278.82 L701.79,278.85 L703.34,278.89 L704.89,278.92 L706.44,278.96 L707.98,278.99 L709.53,279.02 L711.08,279.05 L712.63,279.08 L714.17,279.11 L715.72,279.14 L717.27,279.17 L718.82,279.20 L720.37,279.22 L721.91,279.25 L723.46,279.27 L725.01,279.29" stroke="#ff3333" stroke-width="2.5" fill="none" stroke-linecap="butt" stroke-linejoin="round"/>
<line x1="797.8" y1="55.3" x2="841.2" y2="55.3" stroke="#22ff22" stroke-width="2.2"/>
<line x1="797.8" y1="97.5" x2="841.2" y2="97.5" stroke="#2222ff" stroke-width="2.2"/>
<line x1="797.8" y1="140.3" x2="841.2" y2="140.3" stroke="#ff22ff" stroke-width="2.2"/>
<line x1="797.8" y1="182.5" x2="841.2" y2="182.5" stroke="#ff3333" stroke-width="2.6"/>
<text transform="translate(93.91,287.70) scale(1.0485,1.0667)" font-family="Liberation Sans" font-size="16" fill="#1e1e1e" stroke="#1e1e1e" stroke-width="0.35">2</text>
<text transform="translate(93.91,262.80) scale(1.0485,1.0667)" font-family="Liberation Sans" font-size="16" fill="#1e1e1e" stroke="#1e1e1e" stroke-width="0.35">4</text>
<text transform="translate(93.91,237.50) scale(1.0485,1.0667)" font-family="Liberation Sans" font-size="16" fill="#1e1e1e" stroke="#1e1e1e" stroke-width="0.35">6</text>
<text transform="translate(93.91,212.40) scale(1.0485,1.0667)" font-family="Liberation Sans" font-size="16" fill="#1e1e1e" stroke="#1e1e1e" stroke-width="0.35">8</text>
<g transform="translate(93.91,186.90) scale(1.0485,1.0667)"><text font-family="Liberation Sans" font-size="16" fill="#1e1e1e" stroke="#1e1e1e" stroke-width="0.35">10</text><rect x="-1.00" y="-2.30" width="4.78" height="3.80" fill="#fff"/><rect x="5.58" y="-2.30" width="3.22" height="3.80" fill="#fff"/></g>
<g transform="translate(93.91,161.30) scale(1.0485,1.0667)"><text font-family="Liberation Sans" font-size="16" fill="#1e1e1e" stroke="#1e1e1e" stroke-width="0.35">12</text><rect x="-1.00" y="-2.30" width="4.78" height="3.80" fill="#fff"/><rect x="5.58" y="-2.30" width="3.22" height="3.80" fill="#fff"/></g>
<g transform="translate(93.91,135.90) scale(1.0485,1.0667)"><text font-family="Liberation Sans" font-size="16" fill="#1e1e1e" stroke="#1e1e1e" stroke-width="0.35">14</text><rect x="-1.00" y="-2.30" width="4.78" height="3.80" fill="#fff"/><rect x="5.58" y="-2.30" width="3.22" height="3.80" fill="#fff"/></g>
<g transform="translate(93.91,111.00) scale(1.0485,1.0667)"><text font-family="Liberation Sans" font-size="16" fill="#1e1e1e" stroke="#1e1e1e" stroke-width="0.35">16</text><rect x="-1.00" y="-2.30" width="4.78" height="3.80" fill="#fff"/><rect x="5.58" y="-2.30" width="3.22" height="3.80" fill="#fff"/></g>
<g transform="translate(93.91,85.10) scale(1.0485,1.0667)"><text font-family="Liberation Sans" font-size="16" fill="#1e1e1e" stroke="#1e1e1e" stroke-width="0.35">18</text><rect x="-1.00" y="-2.30" width="4.78" height="3.80" fill="#fff"/><rect x="5.58" y="-2.30" width="3.22" height="3.80" fill="#fff"/></g>
<text transform="translate(93.91,60.30) scale(1.0485,1.0667)" font-family="Liberation Sans" font-size="16" fill="#1e1e1e" stroke="#1e1e1e" stroke-width="0.35">20</text>
<g transform="translate(170.49,325.60) scale(1.0500,1.0489)"><text font-family="Liberation Sans" font-weight="normal" font-size="16" fill="#1e1e1e" stroke="#1e1e1e" stroke-width="0.35">10</text><rect x="-1.00" y="-2.30" width="4.78" height="3.80" fill="#fff"/><rect x="5.58" y="-2.30" width="3.22" height="3.80" fill="#fff"/></g>
<text transform="translate(228.84,325.60) scale(1.0182,1.0489)" font-family="Liberation Sans" font-weight="normal" font-size="16" fill="#1e1e1e" stroke="#1e1e1e" stroke-width="0.35">20</text>
<text transform="translate(287.24,325.60) scale(1.0182,1.0489)" font-family="Liberation Sans" font-weight="normal" font-size="16" fill="#1e1e1e" stroke="#1e1e1e" stroke-width="0.35">30</text>
<text transform="translate(346.05,325.60) scale(0.9882,1.0489)" font-family="Liberation Sans" font-weight="normal" font-size="16" fill="#1e1e1e" stroke="#1e1e1e" stroke-width="0.35">40</text>
<text transform="translate(403.74,325.60) scale(1.0182,1.0489)" font-family="Liberation Sans" font-weight="normal" font-size="16" fill="#1e1e1e" stroke="#1e1e1e" stroke-width="0.35">50</text>
<text transform="translate(461.64,325.60) scale(1.0182,1.0489)" font-family="Liberation Sans" font-weight="normal" font-size="16" fill="#1e1e1e" stroke="#1e1e1e" stroke-width="0.35">60</text>
<text transform="translate(520.14,325.60) scale(1.0182,1.0489)" font-family="Liberation Sans" font-weight="normal" font-size="16" fill="#1e1e1e" stroke="#1e1e1e" stroke-width="0.35">70</text>
<text transform="translate(578.34,325.60) scale(1.0182,1.0489)" font-family="Liberation Sans" font-weight="normal" font-size="16" fill="#1e1e1e" stroke="#1e1e1e" stroke-width="0.35">80</text>
<text transform="translate(636.44,325.60) scale(1.0182,1.0489)" font-family="Liberation Sans" font-weight="normal" font-size="16" fill="#1e1e1e" stroke="#1e1e1e" stroke-width="0.35">90</text>
<g transform="translate(690.83,325.60) scale(0.9737,1.0489)"><text font-family="Liberation Sans" font-weight="normal" font-size="16" fill="#1e1e1e" stroke="#1e1e1e" stroke-width="0.35">100</text><rect x="-1.00" y="-2.30" width="4.78" height="3.80" fill="#fff"/><rect x="5.58" y="-2.30" width="3.22" height="3.80" fill="#fff"/></g>
<text transform="translate(111.39,324.30) scale(1.0286,1.1619)" font-family="Liberation Serif" font-weight="normal" font-size="16" fill="#444" stroke="#444" stroke-width="0.4">0</text>
<text transform="translate(423.59,351.38) scale(1.0123,0.9690)" font-family="Liberation Sans" font-weight="normal" font-size="18" fill="#333" stroke="#2a2a2a" stroke-width="0.45">负载率</text>
<text transform="translate(469.97,350.55) scale(1.5429,0.9836)" font-family="Liberation Sans" font-weight="normal" font-size="18" fill="#555">（</text>
<text transform="translate(495.32,351.50) scale(0.9641,1.2121)" font-family="Liberation Sans" font-weight="normal" font-size="12" fill="#333" stroke="#333" stroke-width="0.6">%</text>
<text transform="translate(502.79,350.55) scale(1.3143,0.9836)" font-family="Liberation Sans" font-weight="normal" font-size="18" fill="#555">）</text>
<text transform="translate(72.54,16.60) scale(1.0479,1.0133)" font-family="Liberation Sans" font-weight="normal" font-size="16" fill="#4a4a4a">THDI</text>
<text transform="translate(110.85,16.16) scale(1.0478,0.9667)" font-family="Liberation Sans" font-weight="normal" font-size="16" fill="#4a4a4a">(%)</text>
<text transform="translate(845.24,60.70) scale(1.0247,0.9854)" font-family="Liberation Sans" font-weight="normal" font-size="15" fill="#787878">THDI&lt;15%</text>
<text transform="translate(846.34,103.40) scale(1.0329,0.9951)" font-family="Liberation Sans" font-weight="normal" font-size="15" fill="#787878">THDI&lt;10%</text>
<text transform="translate(846.35,146.10) scale(1.0193,0.9951)" font-family="Liberation Sans" font-weight="normal" font-size="15" fill="#787878">THDI&lt;5%</text>
<text transform="translate(849.55,188.80) scale(1.0178,0.9854)" font-family="Liberation Sans" font-weight="normal" font-size="15" fill="#787878">THDI&lt;3%</text>
<text transform="translate(395.83,409.82) scale(1.1534,1.0400)" font-family="Liberation Sans" font-weight="bold" font-size="16" fill="#111">(THDI</text>
<text transform="translate(449.80,410.36) scale(0.9885,0.9373)" font-family="Liberation Sans" font-weight="bold" font-size="16.4" fill="#111" stroke="#111" stroke-width="0.45">与负载率的关系曲线</text>
<text transform="translate(598.40,409.82) scale(1.1111,1.0400)" font-family="Liberation Sans" font-weight="bold" font-size="16" fill="#111">)</text>
<text transform="translate(358.17,437.95) scale(0.9749,1.0367)" font-family="Liberation Sans" font-weight="bold" font-size="13" fill="#111">Relationship curve between THDI and load rate</text>
<path d="M935.5,356V360.6H929.3M931.8,358.2L929.1,360.6L931.8,363" stroke="#777" stroke-width="1.3" fill="none"/>
<path d="M622.8,403.3V408H616.8M619.2,405.8L616.6,408L619.2,410.2" stroke="#888" stroke-width="1" fill="none"/>
<circle cx="645.2" cy="437.2" r="0.8" fill="#777"/><path d="M648.4,435.2V438" stroke="#888" stroke-width="0.9"/>
</g>
</svg>
</body></html>
